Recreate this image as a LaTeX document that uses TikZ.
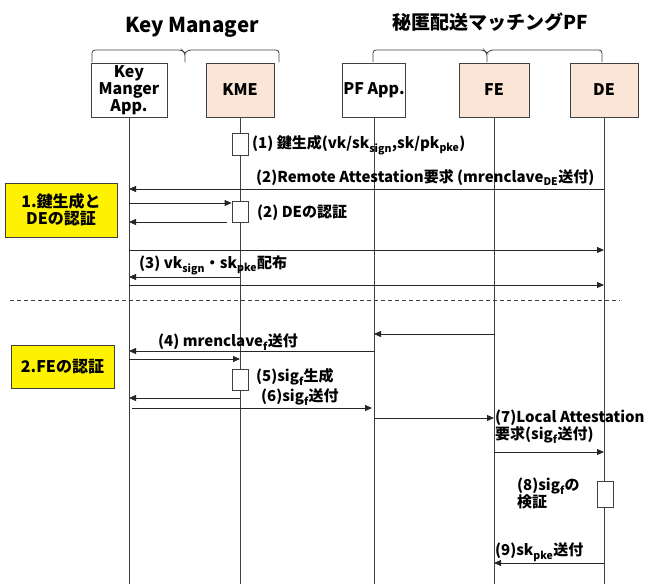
\documentclass[tikz,border=0pt]{standalone}
\usepackage{fontspec}
\setmainfont{Noto Sans CJK JP}
\usetikzlibrary{arrows.meta}
\definecolor{peach}{HTML}{FBE5D6}
\definecolor{ln}{HTML}{404040}
\begin{document}
\begin{tikzpicture}[x=1pt,y=-1pt,
  font=\bfseries\fontsize{15}{17}\selectfont,
  hdr/.style={draw=ln, line width=0.8pt, minimum height=54pt, align=center, inner sep=1pt,
    font=\bfseries\fontsize{16}{17}\selectfont},
  life/.style={draw=ln, line width=0.8pt},
  msg/.style={draw=black!85, line width=0.8pt, -{Triangle[length=7pt,width=6pt]}},
  act/.style={draw=ln, fill=white, line width=0.8pt, minimum width=16pt, inner sep=0pt},
  lbl/.style={anchor=west, inner sep=0pt, align=left},
  note/.style={draw=ln, fill=yellow, line width=0.8pt, align=center,
    font=\bfseries\fontsize{16}{17}\selectfont},
  brc/.style={draw=ln, line width=0.8pt, rounded corners=3pt}]
\useasboundingbox (0,0) rectangle (649,584);
% titles
\node[font=\bfseries\fontsize{20.5}{22}\selectfont] (t1) at (192,27) {Key Manager};
\node[font=\bfseries\fontsize{19}{21}\selectfont] (t2) at (490,22) {秘匿配送マッチングPF};
% braces
\coordinate (b1l) at (92,62); \coordinate (b1c) at (185,50); \coordinate (b1r) at (279,62);
\draw[brc] (b1l) |- ([xshift=-3pt]b1c) -- ([yshift=-3pt]b1c) -- ([yshift=-12pt]b1c);
\draw[brc] ([yshift=-3pt]b1c) -- ([xshift=3pt]b1c) -| (b1r);
\coordinate (b2l) at (373,62); \coordinate (b2c) at (487,50); \coordinate (b2r) at (602,62);
\draw[brc] (b2l) |- ([xshift=-3pt]b2c) -- ([yshift=-3pt]b2c) -- ([yshift=-12pt]b2c);
\draw[brc] ([yshift=-3pt]b2c) -- ([xshift=3pt]b2c) -| (b2r);
% header boxes
\node[hdr, minimum width=76pt] (kma) at (129,90) {Key\\Manger\\App.};
\node[hdr, minimum width=68pt, fill=peach] (kme) at (240,90) {KME};
\node[hdr, minimum width=62pt] (pfa) at (374,90) {PF App.};
\node[hdr, minimum width=70pt, fill=peach] (fe) at (494,90) {FE};
\node[hdr, minimum width=68pt, fill=peach] (de) at (604,90) {DE};
% lifelines
\coordinate (bot) at (0,584);
\foreach \n in {kma,kme,pfa,fe,de} \draw[life] (\n.south) -- (\n |- bot);
% dashed separator
\coordinate (d1) at (10,300); \coordinate (d2) at (620,300);
\draw[draw=ln, line width=0.8pt, dash pattern=on 4pt off 3pt] (d1) -- (d2);
% activation boxes
\node[act, minimum height=22pt] (a1) at (240,144) {};
\node[act, minimum height=21pt] (a2) at (240,211.5) {};
\node[act, minimum height=21pt] (a3) at (240,379.5) {};
\node[act, minimum height=26pt] (a4) at (605,494) {};
% notes
\node[note, minimum width=112pt, minimum height=54pt] (n1) at (61,210) {1.鍵生成と\\DEの認証};
\node[note, minimum width=103pt, minimum height=43pt] (n2) at (62.5,366.5) {2.FEの認証};
% messages
\coordinate (m1) at (0,189);  \draw[msg] (de |- m1) -- (kma |- m1);
\coordinate (m2) at (0,203);  \draw[msg] (kma |- m2) -- (a2.west |- m2);
\coordinate (m3) at (0,222);  \draw[msg] ([xshift=-5pt]a2.west |- m3) -- (kma |- m3);
\coordinate (m4) at (0,250);  \draw[msg] (kma |- m4) -- (de |- m4);
\coordinate (m5) at (0,277);  \draw[msg] (kme |- m5) -- (kma |- m5);
\coordinate (m6) at (0,285);  \draw[msg] (kma |- m6) -- (de |- m6);
\coordinate (m7) at (0,334);  \draw[msg] (fe |- m7) -- (pfa |- m7);
\coordinate (m8) at (0,351);  \draw[msg] (pfa |- m8) -- (kma |- m8);
\coordinate (m9) at (0,359);  \draw[msg] (kma |- m9) -- (kme |- m9);
\coordinate (m10) at (0,398); \draw[msg] (kme |- m10) -- (kma |- m10);
\coordinate (m11) at (0,408); \draw[msg, shorten >=2pt] ([xshift=3pt]kma |- m11) -- (pfa |- m11);
\coordinate (m12) at (0,418); \draw[msg] (pfa |- m12) -- (fe |- m12);
\coordinate (m13) at (0,452); \draw[msg] (fe |- m13) -- (de |- m13);
\coordinate (m14) at (0,563); \draw[msg] (de |- m14) -- (fe |- m14);
% labels
\node[lbl] (l1) at (252,145) {(1) 鍵生成(vk/sk\textsubscript{sign},sk/pk\textsubscript{pke})};
\node[lbl] (l2) at (256,178) {(2)Remote Attestation要求 (mrenclave\textsubscript{DE}送付)};
\node[lbl] (l3) at (257,213) {(2) DEの認証};
\node[lbl] (l4) at (139,265) {(3) vk\textsubscript{sign}・sk\textsubscript{pke}配布};
\node[lbl] (l5) at (158,342) {(4) mrenclave\textsubscript{f}送付};
\node[lbl] (l6) at (256,377) {(5)sig\textsubscript{f}生成};
\node[lbl] (l7) at (261,397) {(6)sig\textsubscript{f}送付};
\node[lbl] (l8) at (495,426.5) {(7)Local Attestation\\要求(sig\textsubscript{f}送付)};
\node[lbl] (l9) at (517,493.5) {(8)sig\textsubscript{f}の\\検証};
\node[lbl] (l10) at (495,552) {(9)sk\textsubscript{pke}送付};
\end{tikzpicture}
\end{document}
